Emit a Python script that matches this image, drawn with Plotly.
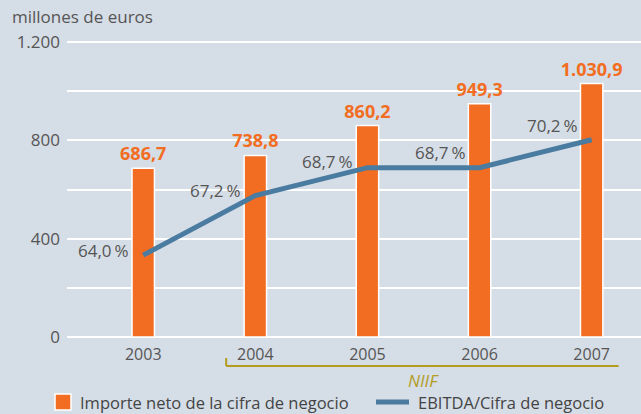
import plotly.graph_objects as go

# ---------------------------------------------------------
# Data
# ---------------------------------------------------------

years = [2003, 2004, 2005, 2006, 2007]
cifra_negocio = [686.7, 738.8, 860.2, 949.3, 1030.9]
ebitda_ratio = [64.0, 67.2, 68.7, 68.7, 70.2]

y_ticks = [0, 200, 400, 600, 800, 1000, 1200]
y_tick_labels = ["0", "", "400", "", "800", "", "1.200"]

bar_name = "Importe neto de la cifra de negocio"
line_name = "EBITDA/Cifra de negocio"

ORANGE = "#f26d21"
BLUE = "#4a7ba0"
GREY = "#555555"
OLIVE = "#b39c1f"
BG = "#d5dde6"
FONT = "Open Sans"

# plot area in pixels (641 x 414 canvas); 1.200 gridline sits at y=42
L, R, T, B = 67, 641, 30, 337
Y_TOP = 1200 + (42 - T) * 1200 / (B - 42)


def px_x(p):
    return (p - L) / (R - L)


def px_y(p):
    return (B - p) / (B - T)


def es_num(v, dec=1):
    s = f"{v:,.{dec}f}"
    return s.replace(",", "X").replace(".", ",").replace("X", ".")


fig = go.Figure()

fig.add_trace(
    go.Bar(
        x=years,
        y=cifra_negocio,
        name=bar_name,
        width=0.2,
        marker=dict(color=ORANGE, line=dict(color="white", width=1.5)),
        text=[es_num(v) for v in cifra_negocio],
        textposition="outside",
        constraintext="none",
        cliponaxis=False,
        textfont=dict(family=FONT, size=18, color=ORANGE, weight="bold"),
    )
)

fig.add_trace(
    go.Scatter(
        x=years,
        y=ebitda_ratio,
        yaxis="y2",
        mode="lines",
        name=line_name,
        line=dict(color=BLUE, width=5),
    )
)

# percentage labels next to the line
label_yshift = [5, 5, 6, 15, 14]
for yr, p, ys in zip(years, ebitda_ratio, label_yshift):
    fig.add_annotation(
        x=yr,
        y=p,
        yref="y2",
        text=f"{es_num(p)}\u2009%",
        showarrow=False,
        xanchor="right",
        yanchor="middle",
        xshift=-13,
        yshift=ys,
        font=dict(family=FONT, size=17, color=GREY),
    )

# NIIF bracket under the axis
fig.add_shape(
    type="line", xref="x", yref="paper",
    x0=2003.74, x1=2007.24, y0=px_y(366), y1=px_y(366),
    line=dict(color=OLIVE, width=2),
)
fig.add_shape(
    type="line", xref="x", yref="paper",
    x0=2003.74, x1=2003.74, y0=px_y(366), y1=px_y(358),
    line=dict(color=OLIVE, width=2),
)
fig.add_annotation(
    x=2005.5, y=px_y(380), xref="x", yref="paper",
    text="<i>NIIF</i>", showarrow=False, yanchor="middle",
    font=dict(family=FONT, size=17, color=OLIVE),
)

# axis unit
fig.add_annotation(
    x=px_x(10), y=px_y(17), xref="paper", yref="paper",
    text="millones de euros", showarrow=False,
    xanchor="left", yanchor="middle",
    font=dict(family=FONT, size=17, color=GREY),
)

# legend (drawn by hand, one row)
fig.add_shape(
    type="rect", xref="paper", yref="paper",
    x0=px_x(55), x1=px_x(71), y0=px_y(410), y1=px_y(394),
    fillcolor=ORANGE, line=dict(color="white", width=1.5),
)
fig.add_annotation(
    x=px_x(78), y=px_y(402), xref="paper", yref="paper",
    text=bar_name, showarrow=False, xanchor="left", yanchor="middle",
    font=dict(family=FONT, size=16.5, color="#444444"),
)
fig.add_shape(
    type="line", xref="paper", yref="paper",
    x0=px_x(376), x1=px_x(409), y0=px_y(402), y1=px_y(402),
    line=dict(color=BLUE, width=5),
)
fig.add_annotation(
    x=px_x(416), y=px_y(402), xref="paper", yref="paper",
    text=line_name, showarrow=False, xanchor="left", yanchor="middle",
    font=dict(family=FONT, size=16.5, color="#444444"),
)

# secondary axis scaled so the line sits where it does in the original
P0, P_SPAN = 59.6, 15.85
p_top = P0 + P_SPAN * Y_TOP / 1200

fig.update_layout(
    width=641,
    height=414,
    margin=dict(l=L, r=641 - R, t=T, b=414 - B, autoexpand=False),
    paper_bgcolor=BG,
    plot_bgcolor=BG,
    showlegend=False,
    font=dict(family=FONT, size=15, color=GREY),
    xaxis=dict(
        range=[2002.32, 2007.44],
        tickvals=years,
        ticktext=[str(y) for y in years],
        showgrid=False,
        zeroline=False,
        showline=False,
        ticks="",
        ticklabelstandoff=6,
        tickfont=dict(size=16, color=GREY),
    ),
    yaxis=dict(
        range=[0, Y_TOP],
        tickvals=y_ticks,
        ticktext=y_tick_labels,
        gridcolor="white",
        gridwidth=1.5,
        zeroline=True,
        zerolinecolor="white",
        zerolinewidth=2,
        showline=False,
        ticks="",
        ticklabelstandoff=6,
        tickfont=dict(size=17, color=GREY),
    ),
    yaxis2=dict(
        range=[P0, p_top],
        overlaying="y",
        side="right",
        visible=False,
    ),
)

# drop the default page margin so the chart sits at the window corner
fig.write_html(
    "out.html",
    config={"displayModeBar": False},
    post_script="document.body.style.margin='0';document.body.style.overflow='hidden';",
)
